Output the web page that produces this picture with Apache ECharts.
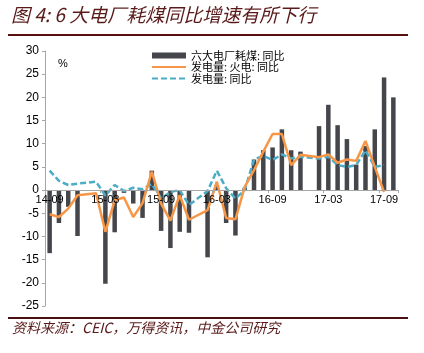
<!DOCTYPE html>
<html>
<head>
<meta charset="utf-8">
<script src="https://cdn.jsdelivr.net/npm/echarts@6/dist/echarts.min.js"></script>
<style>
  html, body { margin: 0; padding: 0; background: #fff; }
  #chart { width: 424px; height: 353px; }
</style>
</head>
<body>
<div id="chart"></div>
<script>
// months 14-09 .. 17-10
const months = [
  '14-09', '14-10', '14-11', '14-12', '15-01', '15-02', '15-03', '15-04', '15-05', '15-06',
  '15-07', '15-08', '15-09', '15-10', '15-11', '15-12', '16-01', '16-02', '16-03', '16-04',
  '16-05', '16-06', '16-07', '16-08', '16-09', '16-10', '16-11', '16-12', '17-01', '17-02',
  '17-03', '17-04', '17-05', '17-06', '17-07', '17-08', '17-09', '17-10'
];

// 六大电厂耗煤: 同比
const coalYoY = [
  -13.6, -7.1, -3.6, -9.9, null, null, -20.2, -9.1, -0.6, -2.9,
  -6.0, 4.2, -8.8, -12.5, -9.0, -9.2, null, -14.5, 1.0, -7.1,
  -9.8, 0.5, 6.6, 8.6, 9.2, 13.1, 8.6, 8.3, null, 13.8,
  18.4, 14.0, 11.0, 5.5, 9.5, 13.1, 24.3, 20.0
];

// 发电量: 火电: 同比
const thermalYoY = [
  -5.2, -5.8, -4.0, -1.1, null, -0.7, -9.0, -2.2, -1.6, -5.8,
  -2.8, 4.0, -2.9, -6.6, -1.1, -6.4, null, -4.3, 1.8, -6.0,
  -6.3, 0.7, 4.3, 8.3, 12.1, 12.1, 5.4, 7.6, null, 7.1,
  7.7, 5.9, 6.6, 6.3, 10.6, 5.0, -0.4, null
];

// 发电量: 同比
const powerYoY = [
  4.2, 2.0, 1.1, 1.4, null, 1.8, -1.2, 1.1, -0.2, 0.5,
  0.2, 1.3, -1.8, -0.4, 0.0, -3.2, null, -0.2, 4.2, 0.4,
  -1.8, 0.0, 6.6, 7.4, 6.5, 7.7, 6.8, 7.2, null, 6.8,
  7.2, 5.4, 5.0, 5.4, 8.6, 5.0, 5.4, null
];

const yTicks = { min: -25, max: 30, step: 5 };

const chart = echarts.init(document.getElementById('chart'));

const maroon = '#5a1a1a';
const cjk = '"Noto Sans CJK SC", sans-serif';

// grid geometry, used to put the category axis on the zero line
const gridTop = 51;
const gridBottom = 47;
const gridHeight = 353 - gridTop - gridBottom;
const zeroOffset = gridHeight * (0 - yTicks.min) / (yTicks.max - yTicks.min);

const option = {
  animation: false,
  backgroundColor: '#fff',
  graphic: [
    {
      type: 'text',
      left: 11,
      top: 5,
      style: {
        text: '图 4: 6 大电厂耗煤同比增速有所下行',
        fill: maroon,
        font: 'italic 19px ' + cjk
      }
    },
    {
      type: 'rect',
      shape: { x: 8, y: 34, width: 400, height: 2 },
      style: { fill: '#5a0f0f' }
    },
    {
      type: 'rect',
      shape: { x: 8, y: 317, width: 400, height: 2 },
      style: { fill: '#4a0f0f' }
    },
    {
      type: 'text',
      left: 12,
      top: 321,
      style: {
        text: '资料来源：CEIC，万得资讯，中金公司研究',
        fill: maroon,
        font: 'italic 14px ' + cjk
      }
    },
    {
      type: 'text',
      left: 58,
      top: 58,
      style: { text: '%', fill: '#000', font: '11px "Liberation Sans", Arial' }
    }
  ],
  legend: {
    orient: 'vertical',
    left: 146,
    top: 45,
    itemWidth: 34,
    itemHeight: 6,
    itemGap: 0.5,
    textStyle: { fontSize: 11, lineHeight: 11, fontFamily: cjk, color: '#000' },
    data: [
      { name: '六大电厂耗煤: 同比', icon: 'rect' },
      { name: '发电量: 火电: 同比', itemStyle: { opacity: 0 } },
      { name: '发电量: 同比', itemStyle: { opacity: 0 } }
    ]
  },
  grid: { left: 45, right: 26, top: gridTop, bottom: gridBottom },
  xAxis: {
    type: 'category',
    data: months,
    offset: -zeroOffset,
    z: 10,
    axisLine: { onZero: false, lineStyle: { color: '#a6a6a6', width: 1 } },
    axisTick: { show: true, interval: 5, length: 3, lineStyle: { color: '#a6a6a6' } },
    axisLabel: {
      interval: 5,
      margin: 4,
      color: '#000',
      fontSize: 11,
      fontFamily: '"Liberation Sans", Arial'
    }
  },
  yAxis: {
    type: 'value',
    min: yTicks.min,
    max: yTicks.max,
    interval: yTicks.step,
    splitLine: { show: false },
    axisLine: { show: true, lineStyle: { color: '#a6a6a6' } },
    axisTick: { show: true, inside: false, length: 3, lineStyle: { color: '#a6a6a6' } },
    axisLabel: {
      margin: 6,
      color: '#000',
      fontSize: 12,
      fontFamily: '"Liberation Sans", Arial'
    }
  },
  series: [
    {
      name: '六大电厂耗煤: 同比',
      type: 'bar',
      data: coalYoY,
      barWidth: 4.5,
      itemStyle: { color: '#45464b' }
    },
    {
      name: '发电量: 火电: 同比',
      type: 'line',
      data: thermalYoY,
      connectNulls: true,
      symbol: 'none',
      z: 4,
      itemStyle: { color: '#f79646' },
      lineStyle: { color: '#f79646', width: 2.5 }
    },
    {
      name: '发电量: 同比',
      type: 'line',
      data: powerYoY,
      connectNulls: true,
      symbol: 'none',
      z: 3,
      itemStyle: { color: '#4bacc6' },
      lineStyle: { color: '#4bacc6', width: 2.5, type: [6, 3] }
    }
  ]
};

chart.setOption(option);
</script>
</body>
</html>
